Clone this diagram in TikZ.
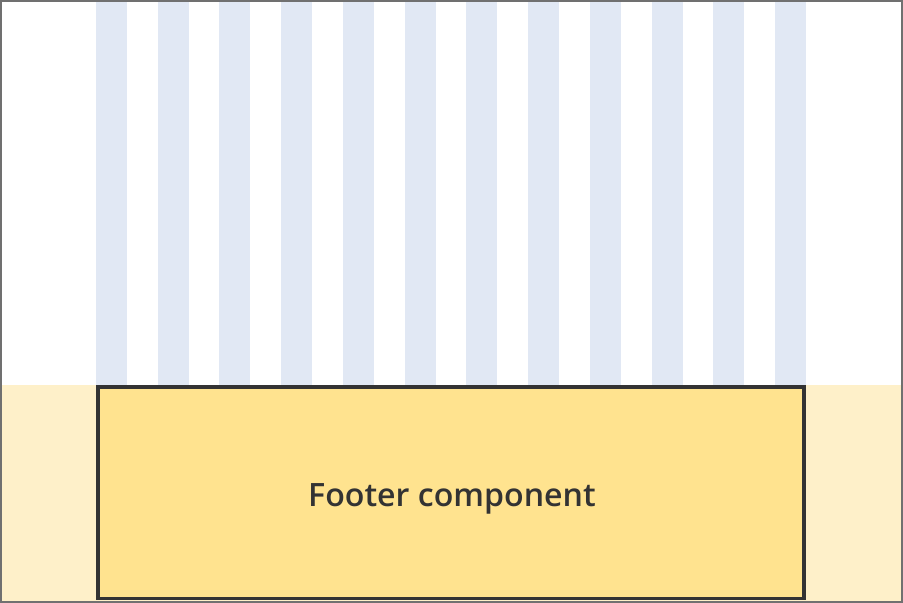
\documentclass[tikz,border=0pt]{standalone}
\usepackage{fontspec}
\newfontfamily\sbfont{Open Sans Semibold}
\definecolor{stripe}{HTML}{E1E8F4}
\definecolor{paleyel}{HTML}{FEF0C9}
\definecolor{footfill}{HTML}{FFE38F}
\definecolor{darkline}{HTML}{333333}
\definecolor{frame}{HTML}{707070}
\tikzset{
  stripecol/.style={fill=stripe, draw=none},
  band/.style={fill=paleyel, draw=none},
  footbox/.style={fill=footfill, draw=darkline, line width=2.7pt, outer sep=0pt, inner sep=0pt},
  outerframe/.style={draw=frame, line width=1.8pt},
  label/.style={text=darkline, font=\sbfont\fontsize{24.1}{29}\selectfont, inner sep=0pt}
}
\begin{document}
\begin{tikzpicture}[x=0.75pt,y=-0.75pt]
\useasboundingbox (0,0) rectangle (903,603);
\fill[white] (0,0) rectangle (903,603);
% stripes
\foreach \i in {0,...,11} {
  \path[stripecol] ({96+\i*61.73},2) rectangle ({127+\i*61.73},385);
}
% footer band
\path[band] (2,385) rectangle (901,601);
% footer component
\node[footbox, minimum width=529.5pt, minimum height=158.6pt, anchor=north west] (footer) at (98,387) {};
\node[label, anchor=base] (footerlabel) at (452,506) {Footer component};
% outer frame
\draw[outerframe] (1.2,1.2) rectangle (901.8,601.8);
\end{tikzpicture}
\end{document}
